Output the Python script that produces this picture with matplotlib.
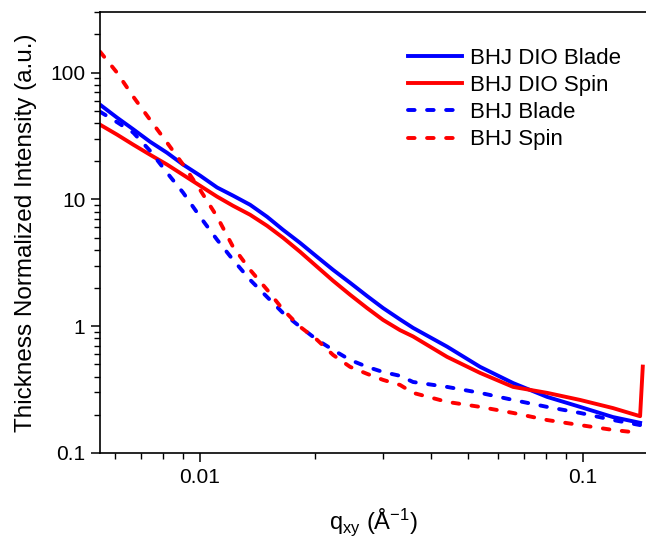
import numpy as np
import matplotlib
matplotlib.use('Agg')
import matplotlib.pyplot as plt
import matplotlib.ticker as mticker

plt.rcParams['font.family'] = ['Liberation Sans', 'DejaVu Sans']
plt.rcParams['mathtext.fontset'] = 'custom'
plt.rcParams['mathtext.rm'] = 'Liberation Sans'
plt.rcParams['mathtext.default'] = 'regular'

# dades llegides del grafic (q en 1/A, intensitat normalitzada)
q = [0.00548, 0.00607, 0.00669, 0.0074, 0.0082, 0.00903, 0.0100, 0.01108, 0.01219,
     0.01351, 0.01496, 0.01647, 0.01824, 0.02021, 0.02225, 0.02464, 0.02729, 0.03005,
     0.03328, 0.03598, 0.04414, 0.05384, 0.06566, 0.08054, 0.09822, 0.1197, 0.1409]

dio_blade = [55.8, 44.1, 35.7, 28.5, 23.3, 18.8, 15.4, 12.4, 10.7, 9.06, 7.29, 5.75, 4.54,
             3.52, 2.78, 2.20, 1.73, 1.39, 1.13, 0.97, 0.69, 0.478, 0.356, 0.277, 0.231,
             0.192, 0.173]
dio_spin = [38.8, 32.4, 27.0, 22.5, 18.8, 15.6, 12.8, 10.5, 8.90, 7.56, 6.19, 4.98, 3.86,
            2.94, 2.28, 1.77, 1.39, 1.12, 0.93, 0.83, 0.573, 0.428, 0.332, 0.298, 0.262,
            0.226, 0.195]
blade = [49.1, 40.6, 33.6, 24.2, 16.2, 11.3, 7.29, 4.80, 3.34, 2.32, 1.70, 1.27, 0.99,
         0.78, 0.65, 0.542, 0.478, 0.435, 0.406, 0.363, 0.332, 0.298, 0.262, 0.231, 0.207,
         0.182, 0.166]
spin = [146, 99.8, 64.6, 42.5, 28.0, 18.8, 11.9, 7.29, 4.23, 2.78, 1.94, 1.35, 0.99, 0.78,
        0.593, 0.478, 0.421, 0.377, 0.344, 0.298, 0.253, 0.231, 0.207, 0.182, 0.166, 0.152,
        0.144]

# pic final de la corba DIO Spin
q_spike = [0.1432]
spin_spike = [0.48]

blau = '#0000FF'
vermell = '#FF0000'

fig = plt.figure(figsize=(6.46, 5.38), dpi=100)
ax = fig.add_axes([100/646, 85/538, 546/646, 441/538])

lw = 2.8
guions = (0, (1.7, 3.2))
ax.plot(q, dio_blade, color=blau, lw=lw, label='BHJ DIO Blade')
ax.plot(q + q_spike, dio_spin + spin_spike, color=vermell, lw=lw, label='BHJ DIO Spin')
ax.plot(q, blade, color=blau, lw=lw, ls=guions, dash_capstyle='round', label='BHJ Blade')
ax.plot(q, spin, color=vermell, lw=lw, ls=guions, dash_capstyle='round', label='BHJ Spin')

ax.set_xscale('log')
ax.set_yscale('log')
ax.set_xlim(0.00548, 0.146)
ax.set_ylim(0.1, 300)

fmt = mticker.FuncFormatter(lambda v, p: f'{v:g}')
ax.xaxis.set_major_locator(mticker.LogLocator(base=10))
ax.xaxis.set_minor_locator(mticker.LogLocator(base=10, subs=np.arange(2, 10)))
ax.yaxis.set_major_locator(mticker.LogLocator(base=10))
ax.yaxis.set_minor_locator(mticker.LogLocator(base=10, subs=np.arange(2, 10)))
ax.xaxis.set_major_formatter(fmt)
ax.yaxis.set_major_formatter(fmt)
ax.xaxis.set_minor_formatter(mticker.NullFormatter())
ax.yaxis.set_minor_formatter(mticker.NullFormatter())

ax.tick_params(which='major', direction='out', length=6.5, width=1.1, labelsize=15, pad=4)
ax.tick_params(which='minor', direction='out', length=4, width=1.0)
ax.tick_params(top=False, right=False, which='both')
for s in ['left', 'bottom', 'top']:
    ax.spines[s].set_linewidth(1.2)
ax.spines['right'].set_visible(False)

ax.set_ylabel('Thickness Normalized Intensity (a.u.)', fontsize=17.5)
ax.yaxis.set_label_coords(-0.116, 0.5)
ax.set_xlabel(r'q$_{xy}$ (Å$^{-1}$)', fontsize=17)
ax.xaxis.set_label_coords(0.5, -0.122)
ax.xaxis.label.set_va('top')

ax.legend(loc='upper left', bbox_to_anchor=(0.564, 0.919), frameon=False, fontsize=16,
          borderpad=0, borderaxespad=0, handlelength=2.45, handletextpad=0.35,
          labelspacing=0.28)

fig.savefig('out.png', dpi=100)
